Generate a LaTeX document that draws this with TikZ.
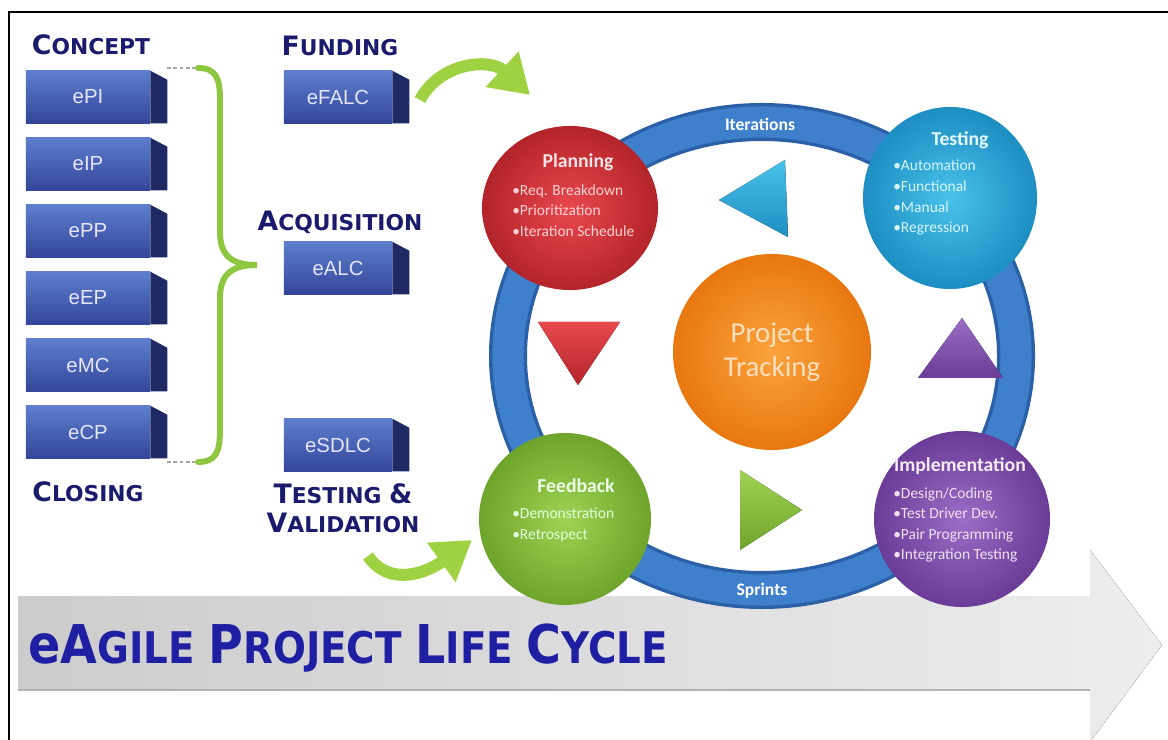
\documentclass[tikz,border=0pt]{standalone}
\usepackage{fontspec}
\setmainfont{Liberation Sans}
\newfontfamily\headfont{DejaVu Sans}
\newfontfamily\calfont{Carlito}
\usetikzlibrary{arrows.meta,shapes.geometric}

\definecolor{navy}{HTML}{1B1B6E}
\definecolor{titleblue}{HTML}{1F1FA3}
\definecolor{blkTop}{HTML}{5E7ECD}
\definecolor{blkBot}{HTML}{33469A}
\definecolor{blkSide}{HTML}{1F2A64}
\definecolor{leaf}{HTML}{8DC63F}
\definecolor{arrowGreen}{HTML}{9FD243}
\definecolor{ringBlue}{HTML}{3F80CC}
\definecolor{ringDark}{HTML}{2B5FA6}
\definecolor{redL}{HTML}{E8484E}
\definecolor{redD}{HTML}{B3242A}
\definecolor{cyanL}{HTML}{48C2EA}
\definecolor{cyanD}{HTML}{1D8EC2}
\definecolor{orangeL}{HTML}{FBA33C}
\definecolor{orangeD}{HTML}{E8780F}
\definecolor{greenL}{HTML}{A0D352}
\definecolor{greenD}{HTML}{6EA42B}
\definecolor{purpleL}{HTML}{9B6DC6}
\definecolor{purpleD}{HTML}{6A3C97}

\newcommand\hbig{\fontsize{19}{22}\selectfont}
\newcommand\hsml{\fontsize{15.5}{18}\selectfont}
\newcommand\tbig{\fontsize{38}{44}\selectfont}
\newcommand\tsml{\fontsize{31}{36}\selectfont}
\newcommand\blkside[1]{\fill[blkSide] (#1.north east) -- ++(17,9) |- (#1.south east) -- cycle;}

\tikzset{
  blk/.style={rectangle, minimum height=1.3cm, inner sep=0pt, top color=blkTop, bottom color=blkBot,
    text=white!90!blue, font=\fontsize{14.5}{16}\selectfont},
  lblk/.style={blk, minimum width=3.1cm},
  mblk/.style={blk, minimum width=2.7cm},
  head/.style={text=navy, font=\headfont\bfseries, inner sep=0pt},
  ball/.style={ellipse, inner sep=0pt},
  ctitle/.style={inner sep=0pt, font=\calfont\bfseries\fontsize{14}{16}\selectfont},
  clist/.style={inner sep=0pt, anchor=north west, align=left, font=\calfont\fontsize{11}{14.6}\selectfont},
  ringtxt/.style={text=white, font=\calfont\bfseries\fontsize{12.5}{14}\selectfont},
  gar/.style={draw=arrowGreen, line width=0.3cm, -{Triangle[length=0.95cm, width=1.15cm]}},
  dotline/.style={draw=black!35, line width=2pt, dash pattern=on 2.5pt off 2pt},
  brace/.style={draw=leaf, line width=4.2pt, line cap=round}
}

\begin{document}
\begin{tikzpicture}[x=0.025cm, y=-0.025cm]
\useasboundingbox (0,0) rectangle (1168,740);
\fill[white] (0,0) rectangle (1168,740);
\draw[line width=1.5pt] (9,740) -- (9,12) -- (1168,12);

% life cycle arrow
\fill[left color=black!20, right color=black!7] (18,596) -- (1090,596) -- (1090,550) -- (1162,645) -- (1090,742) -- (1090,690) -- (18,690) -- cycle;
\draw[black!30, line width=2pt] (18,690) -- (1090,690);
\node[anchor=west, text=titleblue, font=\headfont\bfseries, inner sep=0pt] (life) at (28,648)
  {\scalebox{0.89}[1]{\tbig e\tbig A\tsml GILE \tbig P\tsml ROJECT \tbig L\tsml IFE \tbig C\tsml YCLE}};

% left column
\node[head] (concept) at (91,45) {\hbig C\hsml ONCEPT};
\foreach \n/\y in {ePI/97, eIP/164, ePP/231, eEP/298, eMC/365, eCP/432} {
  \node[lblk] (\n) at (88,\y) {\n};
  \blkside{\n}
}
\node[head] (closing) at (88,492) {\hbig C\hsml LOSING};

\coordinate (dotT) at (167,68);
\coordinate (dotB) at (167,462);
\coordinate (brT) at (198,68);
\coordinate (brB) at (198,462);
\coordinate (brM) at (257,265);
\draw[dotline] (dotT) -- (brT);
\draw[dotline] (dotB) -- (brB);
\draw[brace] (brT) .. controls (216,68) and (220,78) .. (220,100) -- (220,232)
  .. controls (220,256) and (232,265) .. (brM)
  .. controls (232,265) and (220,274) .. (220,298) -- (220,430)
  .. controls (220,452) and (216,462) .. (brB);

% middle column
\node[head] (funding) at (340,46) {\hbig F\hsml UNDING};
\node[mblk] (eFALC) at (338,97) {eFALC};
\blkside{eFALC}
\node[head] (acq) at (340,222) {\hbig A\hsml CQUISITION};
\node[mblk] (eALC) at (338,268) {eALC};
\blkside{eALC}
\node[mblk] (eSDLC) at (338,445) {eSDLC};
\blkside{eSDLC}
\node[head] (testv) at (343,494) {\hbig T\hsml ESTING \hbig\&};
\node[head] (valid) at (343,523) {\hbig V\hsml ALIDATION};

\coordinate (fundT) at (420,100);
\coordinate (fundH) at (530,95);
\draw[gar] (fundT) .. controls (440,62) and (490,58) .. (fundH);
\coordinate (tvT) at (368,556);
\coordinate (tvH) at (472,540);
\draw[gar] (tvT) .. controls (390,588) and (428,572) .. (tvH);

% cycle
\draw[ringDark, line width=0.95cm] (762,356) ellipse [x radius=254, y radius=234];
\draw[ringBlue, line width=0.78cm] (762,356) ellipse [x radius=254, y radius=234];
\node[ringtxt] (iter) at (760,124) {Iterations};
\node[ringtxt] (sprint) at (762,591) {Sprints};

\fill[top color=cyanL, bottom color=cyanD] (719,200) -- (785,160) -- (788,237) -- cycle;
\fill[top color=redL, bottom color=redD] (538,322) -- (620,322) -- (578,385) -- cycle;
\fill[top color=purpleL, bottom color=purpleD] (962,318) -- (1003,378) -- (918,378) -- cycle;
\fill[top color=greenL, bottom color=greenD] (740,470) -- (802,510) -- (740,550) -- cycle;

\node[ball, minimum width=4.4cm, minimum height=4.1cm, inner color=redL, outer color=redD] (plan) at (570,208) {};
\node[ball, minimum width=4.35cm, minimum height=4.55cm, inner color=cyanL, outer color=cyanD] (test) at (950,198) {};
\node[ball, minimum width=4.95cm, minimum height=4.9cm, inner color=orangeL, outer color=orangeD, align=center,
  text=orange!25!white, font=\calfont\fontsize{20.5}{24.5}\selectfont] (track) at (772,352) {Project\\Tracking};
\node[ball, minimum width=4.3cm, minimum height=4.3cm, inner color=greenL, outer color=greenD] (feed) at (565,519) {};
\node[ball, minimum width=4.4cm, minimum height=4.4cm, inner color=purpleL, outer color=purpleD] (impl) at (962,519) {};

\node[ctitle, text=red!10!white] (plant) at (578,162) {Planning};
\node[clist, text=red!18!white] (planl) at (512,184) {•Req. Breakdown\\•Prioritization\\•Iteration Schedule};
\node[ctitle, text=cyan!10!white] (testt) at (960,140) {Testing};
\node[clist, text=cyan!15!white] (testl) at (893,160) {•Automation\\•Functional\\•Manual\\•Regression};
\node[ctitle, text=green!8!white] (feedt) at (576,486) {Feedback};
\node[clist, text=green!12!white] (feedl) at (512,508) {•Demonstration\\•Retrospect};
\node[ctitle, text=violet!8!white] (implt) at (960,466) {Implementation};
\node[clist, text=violet!12!white] (impll) at (893,487) {•Design/Coding\\•Test Driver Dev.\\•Pair Programming\\•Integration Testing};
\end{tikzpicture}
\end{document}
